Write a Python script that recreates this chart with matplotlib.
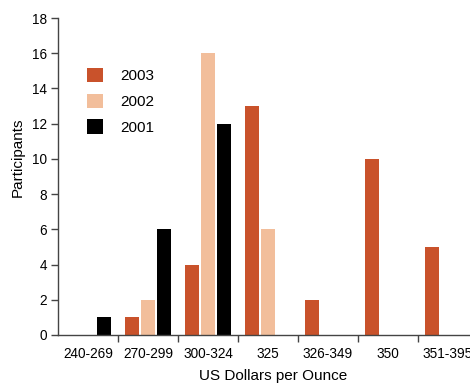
import matplotlib
matplotlib.use("Agg")
import matplotlib.pyplot as plt
import numpy as np
from matplotlib.patches import Patch

categories = ["240-269", "270-299", "300-324", "325", "326-349", "350", "351-395"]
v2003 = [0, 1, 4, 13, 2, 10, 5]
v2002 = [0, 2, 16, 6, 0, 0, 0]
v2001 = [1, 6, 12, 0, 0, 0, 0]
series_names = ["2003", "2002", "2001"]
colors = ["#C9522B", "#F2BE9B", "#000000"]

plt.rcParams['font.family'] = ['Liberation Sans', 'DejaVu Sans']

W, H = 470, 383
fig = plt.figure(figsize=(W / 100, H / 100), dpi=100)
ax = fig.add_axes([58 / W, 48 / H, 420 / W, 317 / H])

x = np.arange(len(categories))
width = 0.24
offset = 0.267
for i, (vals, c) in enumerate(zip([v2003, v2002, v2001], colors)):
    xs = x + (i - 1) * offset
    mask = np.array(vals) > 0
    ax.bar(xs[mask], np.array(vals)[mask], width=width, color=c, linewidth=0)

ax.set_xlim(-0.5, len(categories) - 0.5)
ax.set_ylim(0, 18)
ax.set_yticks(range(0, 19, 2))
ax.set_xticks(x)
ax.set_xticklabels(categories)
ax.set_xticks(np.arange(0.5, len(categories), 1.0), minor=True)
ax.tick_params(axis='x', which='major', length=0, labelsize=9.8, pad=9)
ax.tick_params(axis='x', which='minor', length=5, width=1, color='#444444')
ax.tick_params(axis='y', length=5, width=1, color='#444444', labelsize=9.8, pad=3)

for s in ['top', 'right']:
    ax.spines[s].set_visible(False)
for s in ['left', 'bottom']:
    ax.spines[s].set_color('#444444')
    ax.spines[s].set_linewidth(1)

fig.text(273 / W, 1 - 376 / H, "US Dollars per Ounce", ha='center', va='center', fontsize=11)
fig.text(18 / W, 1 - 157 / H, "Participants", ha='center', va='center', rotation=90, fontsize=11)

handles = [Patch(facecolor=c, edgecolor='none') for c in colors]
leg = ax.legend(handles, series_names, loc='upper left',
                bbox_to_anchor=(87 / W, 1 - 68 / H), bbox_transform=fig.transFigure,
                frameon=False, fontsize=11, handlelength=1.05, handleheight=1.05,
                handletextpad=1.15, labelspacing=0.68, borderpad=0, borderaxespad=0)

fig.savefig("out.png", dpi=100)
